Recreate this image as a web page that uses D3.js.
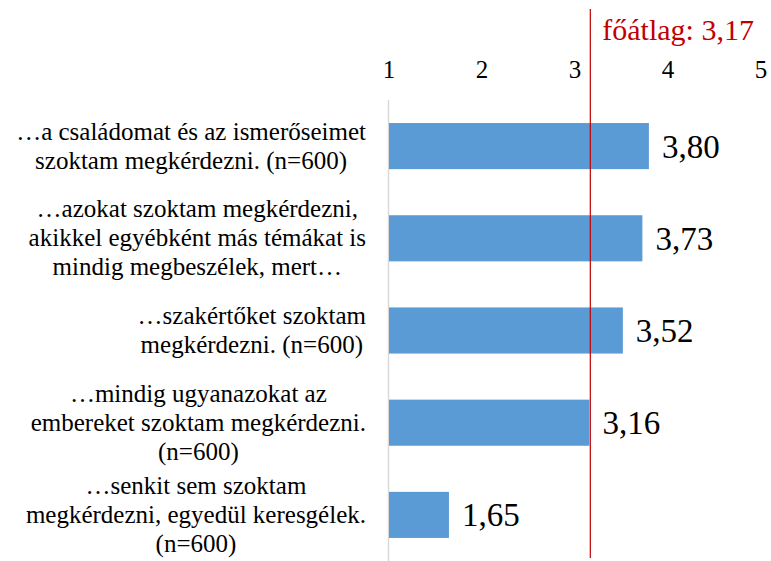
<!DOCTYPE html>
<html>
<head>
<meta charset="utf-8">
<script src="https://cdn.jsdelivr.net/npm/d3@7"></script>
<style>
  body { margin: 0; background: #fff; }
  text { font-family: "Liberation Serif", "Times New Roman", serif; }
</style>
</head>
<body>
<div id="chart"></div>
<script>
// Data
const categories = [
  ["…a családomat és az ismerőseimet", "szoktam megkérdezni. (n=600)"],
  ["…azokat szoktam megkérdezni,", "akikkel egyébként más témákat is", "mindig megbeszélek, mert…"],
  ["…szakértőket szoktam", "megkérdezni. (n=600)"],
  ["…mindig ugyanazokat az", "embereket szoktam megkérdezni.", "(n=600)"],
  ["…senkit sem szoktam", "megkérdezni, egyedül keresgélek.", "(n=600)"]
];
const values = [3.80, 3.73, 3.52, 3.16, 1.65];
const tickValues = [1, 2, 3, 4, 5];
const overallMean = 3.17;
const meanLabel = "főátlag: 3,17";

const width = 771;
const height = 561;
const serif = "'Liberation Serif', 'Times New Roman', serif";
const fmt = v => v.toFixed(2).replace(".", ",");

const svg = d3.select("#chart")
  .append("svg")
  .attr("width", width)
  .attr("height", height)
  .attr("font-family", serif);

const x = d3.scaleLinear().domain([1, 5]).range([388.5, 760.5]);
const y = d3.scaleBand()
  .domain(d3.range(values.length))
  .range([100, 561])
  .paddingInner(0.5)
  .paddingOuter(0.25);

// Top axis labels
const axis = d3.axisTop(x).tickValues(tickValues).tickSize(0).tickFormat(d3.format("d"));
const ax = svg.append("g")
  .attr("transform", "translate(0,78)")
  .call(axis)
  .attr("font-family", serif);
ax.select(".domain").remove();
ax.selectAll("text")
  .attr("dy", 0)
  .attr("y", 0)
  .attr("font-size", 25)
  .attr("fill", "#000");

// Category axis line
svg.append("line")
  .attr("x1", x(1)).attr("x2", x(1))
  .attr("y1", 100).attr("y2", height)
  .attr("stroke", "#d9d9d9")
  .attr("stroke-width", 1.5);

// Bars
svg.append("g")
  .selectAll("rect")
  .data(values)
  .enter().append("rect")
  .attr("x", x(1) + 0.5)
  .attr("y", (d, i) => y(i))
  .attr("width", d => x(d) - x(1) - 0.5)
  .attr("height", y.bandwidth())
  .attr("fill", "#5b9bd5");

// Value labels
svg.append("g")
  .selectAll("text")
  .data(values)
  .enter().append("text")
  .attr("x", d => x(d) + 13)
  .attr("y", (d, i) => y(i) + y.bandwidth() / 2)
  .attr("dy", "0.35em")
  .attr("font-size", 33)
  .attr("fill", "#000")
  .text(d => fmt(d));

// Category labels, lines centered inside a right-aligned block
const lineH = 29;
const labelRight = 366;
categories.forEach((lines, i) => {
  const g = svg.append("g");
  const cy = y(i) + y.bandwidth() / 2;
  const t = g.selectAll("text")
    .data(lines)
    .enter().append("text")
    .attr("font-size", 25)
    .attr("fill", "#000")
    .attr("text-anchor", "middle")
    .attr("y", (d, j) => cy + (j - (lines.length - 1) / 2) * lineH + 8)
    .text(d => d);
  let maxW = 0;
  t.each(function () { maxW = Math.max(maxW, this.getComputedTextLength()); });
  t.attr("x", labelRight - maxW / 2);
});

// Overall mean line
svg.append("line")
  .attr("x1", x(overallMean)).attr("x2", x(overallMean))
  .attr("y1", 9).attr("y2", 558)
  .attr("stroke", "#c00000")
  .attr("stroke-width", 1.2);

svg.append("text")
  .attr("x", x(overallMean) + 12)
  .attr("y", 40)
  .attr("font-size", 30)
  .attr("fill", "#c00000")
  .text(meanLabel);
</script>
</body>
</html>
